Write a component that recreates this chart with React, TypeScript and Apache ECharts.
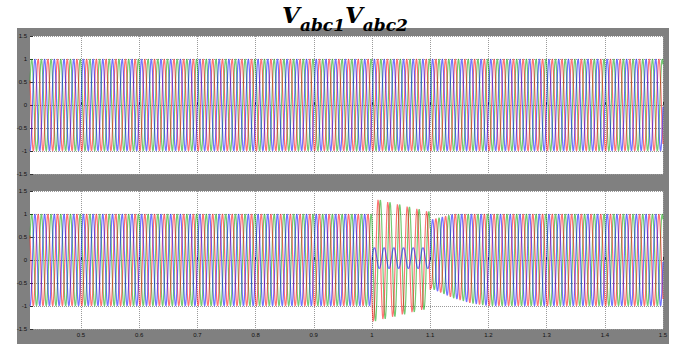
import React, { useEffect, useRef } from "react";
import * as echarts from "echarts";

// ---- tick labels ----
const xTicks = [0.5, 0.6, 0.7, 0.8, 0.9, 1.0, 1.1, 1.2, 1.3, 1.4, 1.5];
const yTicks = [-1.5, -1, -0.5, 0, 0.5, 1, 1.5];
const timeSpan = [0.4124, 1.5];

// ---- three-phase signal parameters ----
const frequencyHz = [60];
const phaseColors = ["#00a000", "#ff0000", "#0000ff"]; // green, red, blue (draw order)
const normalAngleDeg = [120, -120, 0];
const normalAmplitude = [1, 1, 1];

// ---- V_abc2 disturbance (1.0 s - 1.1 s) ----
const faultWindow = [1.0, 1.1];
const faultAngleDeg = [140, -140, 0];
const faultEnvelopeTimes = [1.0, 1.05, 1.1];
const faultAmpGreen = [1.35, 1.2, 1.05];
const faultAmpRed = [1.35, 1.2, 1.05];
const faultAmpBlue = [0.23, 0.23, 0.23];
const faultOffsetBlue = [0.04, 0.04, 0.04];

// ---- recovery after 1.1 s ----
const recoveryTimes = [1.1, 1.14, 1.17, 1.2];
const recoveryAmp = [0.74, 0.915, 0.97, 1.0];
const recoveryOffset = [0.13, 0.085, 0.03, 0];

const samplesPerCycle = 24;

function interp(ts: number[], vs: number[], t: number) {
  if (t <= ts[0]) return vs[0];
  for (let i = 1; i < ts.length; i++) {
    if (t <= ts[i]) {
      const f = (t - ts[i - 1]) / (ts[i] - ts[i - 1]);
      return vs[i - 1] + f * (vs[i] - vs[i - 1]);
    }
  }
  return vs[vs.length - 1];
}

function buildPhase(k: number, disturbed: boolean) {
  const w = 2 * Math.PI * frequencyHz[0];
  const dt = 1 / (frequencyHz[0] * samplesPerCycle);
  const out: number[][] = [];
  const faultAmps = [faultAmpGreen, faultAmpRed, faultAmpBlue];
  for (let t = timeSpan[0]; t <= timeSpan[1] + 1e-9; t += dt) {
    let amp = normalAmplitude[k];
    let ang = normalAngleDeg[k];
    let off = 0;
    if (disturbed) {
      if (t >= faultWindow[0] && t < faultWindow[1]) {
        amp = interp(faultEnvelopeTimes, faultAmps[k], t);
        ang = faultAngleDeg[k];
        off = k === 2 ? interp(faultEnvelopeTimes, faultOffsetBlue, t) : 0;
      } else if (t >= faultWindow[1]) {
        amp = interp(recoveryTimes, recoveryAmp, t);
        off = interp(recoveryTimes, recoveryOffset, t);
      }
    }
    out.push([t, off + amp * Math.sin(w * t + (ang * Math.PI) / 180)]);
  }
  return out;
}

const axisFont = { fontSize: 6, color: "#111", fontFamily: "Liberation Sans" };

export default function App() {
  const ref = useRef<HTMLDivElement>(null);
  useEffect(() => {
    if (!ref.current) return;
    const chart = echarts.init(ref.current, undefined, { renderer: "svg" });
    const grids = [
      { left: 30, top: 36, width: 633, height: 138 },
      { left: 30, top: 191, width: 633, height: 138 },
    ].map((g) => ({ ...g, show: true, backgroundColor: "#ffffff", borderWidth: 0 }));

    const xAxes = [0, 1].map((i) => ({
      type: "value",
      gridIndex: i,
      min: timeSpan[0],
      max: timeSpan[1],
      axisLine: { show: false },
      axisTick: { show: true, inside: true, length: 3, lineStyle: { color: "#333" }, customValues: xTicks },
      axisLabel: { show: i === 1, customValues: xTicks, margin: 3, ...axisFont },
      splitLine: { show: true, lineStyle: { type: "dotted", color: "#9a9a9a", width: 1 } },
    }));
    const yAxes = [0, 1].map((i) => ({
      type: "value",
      gridIndex: i,
      min: yTicks[0],
      max: yTicks[yTicks.length - 1],
      interval: 0.5,
      axisLine: { show: false },
      axisTick: { show: true, inside: true, length: 3, lineStyle: { color: "#333" } },
      axisLabel: { margin: 3, ...axisFont },
      splitLine: { show: true, lineStyle: { type: "dotted", color: "#9a9a9a", width: 1 } },
    }));

    const series: any[] = [];
    [0, 1].forEach((panel) => {
      phaseColors.forEach((c, k) => {
        series.push({
          type: "line",
          xAxisIndex: panel,
          yAxisIndex: panel,
          data: buildPhase(k, panel === 1),
          showSymbol: false,
          symbol: "none",
          silent: true,
          clip: true,
          lineStyle: { color: c, width: 1.2, opacity: 0.55 },
        });
      });
    });

    const sub = { fontSize: 17, fontWeight: "bold", fontStyle: "italic", fontFamily: "DejaVu Serif", color: "#000", lineHeight: 30, verticalAlign: "bottom" };
    chart.setOption({
      animation: false,
      backgroundColor: "#ffffff",
      title: {
        text: "{v|V}{s|abc1}{v|V}{s|abc2}",
        left: 340,
        textAlign: "center",
        top: -2,
        textStyle: {
          rich: {
            v: { ...sub, fontSize: 23, verticalAlign: "top" },
            s: sub,
          },
        },
      },
      graphic: [
        { type: "rect", z: -10, shape: { x: 17, y: 28, width: 652, height: 316 }, style: { fill: "#808080" } },
      ],
      grid: grids,
      xAxis: xAxes,
      yAxis: yAxes,
      series,
    });
    return () => chart.dispose();
  }, []);
  return <div ref={ref} style={{ position: "fixed", left: 0, top: 0, width: 684, height: 344 }} />;
}
